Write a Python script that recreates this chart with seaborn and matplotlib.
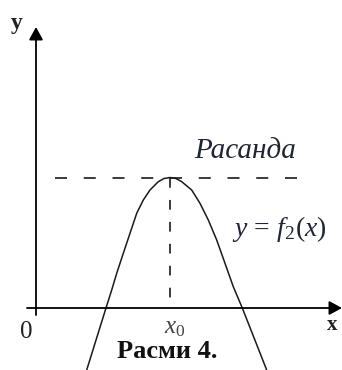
import matplotlib
matplotlib.use("Agg")
import matplotlib.pyplot as plt
import seaborn as sns
import pandas as pd

# ---- data (coordinates relative to the origin) ----
curve_x = [50.7, 70, 75.7, 80.7, 87.3, 94, 100.7, 107.3, 114, 122.3, 128, 134,
           140, 145.7, 155.7, 164, 172.3, 180.7, 189, 197.3, 206.3, 230.7]
curve_y = [-62, 0, 18, 34.7, 54.7, 74.7, 94.7, 108, 118, 126.3, 129.5, 130.5,
           129.5, 126.3, 118, 104.7, 88, 68, 44.7, 21.3, 0, -62]
x0 = 134          # position of the maximum
y_max = 130.5     # maximum value
level_start, level_end = 19, 261   # extent of the dashed level line
x_axis_range = (-9, 306)
y_axis_range = (-7, 281)

label_title = "Расми 4."
label_level = "Расанда"
label_func = r"$y\,=\,f_2(x)$"
label_x0 = r"$x_0$"

sns.set_theme(style="white")
plt.rcParams["font.family"] = ["Liberation Serif", "DejaVu Serif"]
plt.rcParams["mathtext.fontset"] = "custom"
plt.rcParams["mathtext.rm"] = "Liberation Serif"
plt.rcParams["mathtext.it"] = "Liberation Serif:italic"
plt.rcParams["mathtext.bf"] = "Liberation Serif:bold"
plt.rcParams["lines.scale_dashes"] = False

fig = plt.figure(figsize=(3.42, 3.70), dpi=100)
ax = fig.add_axes([0, 0, 1, 1])
ax.set_xlim(-36, 306)
ax.set_ylim(-62, 308)
ax.axis("off")

df = pd.DataFrame({"x": curve_x, "y": curve_y})
sns.lineplot(data=df, x="x", y="y", sort=False, estimator=None, color="#1a1a1a",
             linewidth=1.1, ax=ax)

# dashed guide lines
ax.plot([level_start, level_end], [y_max, y_max], color="#1a1a1a", linewidth=1.2,
        dashes=(8.64, 12.06))
ax.plot([x0, x0], [y_max, 0], color="#1a1a1a", linewidth=1.2, dashes=(7.0, 8.8))

# axes with arrows
arrow_kw = dict(arrowstyle="-|>,head_length=0.55,head_width=0.3", color="black",
                lw=1.3, shrinkA=0, shrinkB=0, mutation_scale=14)
ax.annotate("", xy=(x_axis_range[1], 0), xytext=(x_axis_range[0], 0), arrowprops=arrow_kw)
ax.annotate("", xy=(0, y_axis_range[1]), xytext=(0, y_axis_range[0]), arrowprops=arrow_kw)

# texts
ax.text(-19, 284, "y", fontsize=17, fontweight="bold", ha="center", va="center", color="#222222")
ax.text(-10, -24, "0", fontsize=18, ha="center", va="center", color="#222222")
ax.text(296, -17, "x", fontsize=15, fontweight="bold", ha="center", va="center", color="#222222")
ax.text(x0 + 5, -20, label_x0, fontsize=18, ha="center", va="center", color="#444444")
ax.text(131, -43, label_title, fontsize=19, fontweight="bold", ha="center", va="center", color="#111111")
ax.text(209, 157, label_level, fontsize=21, style="italic", ha="center", va="center", color="#1f2535")
ax.text(243, 79, label_func, fontsize=20, ha="center", va="center", color="#1f2535")

fig.savefig("out.png", dpi=100)
